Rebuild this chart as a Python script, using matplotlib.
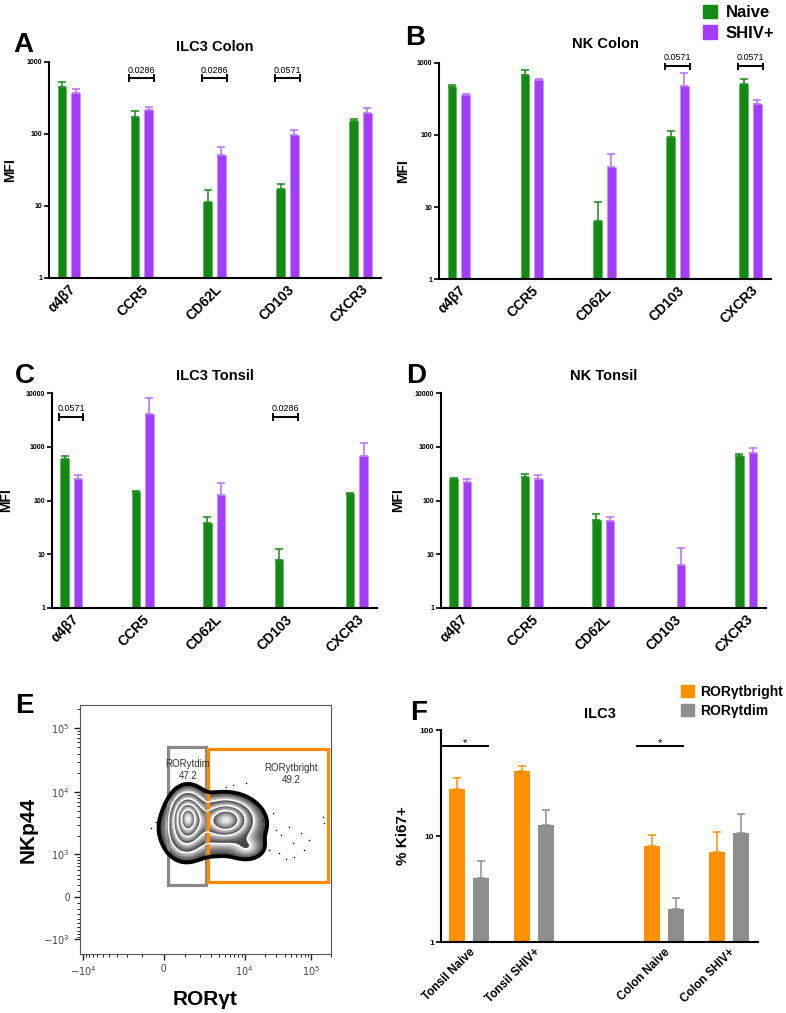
import numpy as np
import matplotlib
matplotlib.use('Agg')
import matplotlib.pyplot as plt
from matplotlib.patches import Rectangle, Patch
from matplotlib.ticker import NullLocator

plt.rcParams['font.family'] = ['Liberation Sans', 'DejaVu Sans']

# ---------------- data ----------------
markers = ['α4β7', 'CCR5', 'CD62L', 'CD103', 'CXCR3']
nan = np.nan

ilc3_colon_naive = [454, 174, 11.2, 17.2, 152]
ilc3_colon_naive_err = [68, 35, 5.3, 3.2, 11]
ilc3_colon_shiv = [371, 218, 51, 97, 198]
ilc3_colon_shiv_err = [51, 19, 16, 18, 29]
ilc3_colon_sig_idx = [1, 2, 3]
ilc3_colon_sig_p = ['0.0286', '0.0286', '0.0571']
ilc3_colon_sig_y = 600

nk_colon_naive = [465, 690, 6.4, 93, 512]
nk_colon_naive_err = [35, 119, 5.5, 22, 95]
nk_colon_shiv = [356, 575, 36, 485, 267]
nk_colon_shiv_err = [20, 32, 18, 250, 43]
nk_colon_sig_idx = [3, 4]
nk_colon_sig_p = ['0.0571', '0.0571']
nk_colon_sig_y = 910

ilc3_tonsil_naive = [580, 144, 37.7, 7.9, 134]
ilc3_tonsil_naive_err = [89, 8, 11, 4.5, 6]
ilc3_tonsil_shiv = [247, 4140, 126, nan, 679]
ilc3_tonsil_shiv_err = [46, 4050, 82, nan, 503]
ilc3_tonsil_sig_idx = [0, 3]
ilc3_tonsil_sig_p = ['0.0571', '0.0286']
ilc3_tonsil_sig_y = 3590

nk_tonsil_naive = [254, 277, 43.5, nan, 679]
nk_tonsil_naive_err = [11, 38, 11.5, nan, 60]
nk_tonsil_shiv = [217, 254, 42, 6.4, 771]
nk_tonsil_shiv_err = [37, 47, 7, 6.4, 197]

ki67_groups = ['Tonsil Naive', 'Tonsil SHIV+', 'Colon Naive', 'Colon SHIV+']
ki67_bright = [27.9, 41, 8.1, 7.1]
ki67_bright_err = [7.5, 5, 2.2, 3.8]
ki67_dim = [4.0, 12.6, 2.07, 10.6]
ki67_dim_err = [1.8, 5.1, 0.55, 5.4]
ki67_sig_groups = [0, 2]
ki67_sig_y = 70

# flow cytometry (panel E): populations described in RORgt / NKp44 units
pop_rorgt_center = [1135, 5340, 3300, 11000, 1000]
pop_nkp44_center = [4040, 3690, 2900, 1300, 1900]
pop_rorgt_spread = [0.30, 0.45, 0.90, 0.32, 0.35]
pop_nkp44_spread = [0.45, 0.36, 0.55, 0.24, 0.42]
pop_weight = [1.0, 0.75, 0.24, 0.12, 0.25]
contour_levels = [0.028, 0.13, 0.32, 0.55, 0.8]
outlier_rorgt = [26700, 30000, 35700, 47500, 53300, 71000, 79600, 94700, 150000,
                 159000, 18800, 23700, 33600, 42300, 56300, -535, -311, 10600, 6640, 5260]
outlier_nkp44 = [4600, 2500, 2080, 2820, 1520, 2210, 1180, 1720, 4070,
                 3190, 3600, 1180, 1030, 840, 895, 2660, 3380, 13700, 12800, 12100]
gate_dim_x = [169, 2465]
gate_dim_y = [197, 50850]
gate_bright_x = [2652, 182500]
gate_bright_y = [251, 47400]
gate_dim_label = 'RORytdim\n47.2'
gate_bright_label = 'RORytbright\n49.2'

# ---------------- style ----------------
GREEN = '#138a13'
GREEN_EDGE = '#5bb85b'
PURPLE = '#a43cfb'
PURPLE_EDGE = '#c995ff'
PURPLE_ERR = '#b86cff'
ORANGE = '#ff9100'
GRAY = '#8e8e8e'

W, H = 786, 1013
fig = plt.figure(figsize=(W / 100, H / 100), dpi=100)


def rect(l, t, r, b):
    return [l / W, 1 - b / H, (r - l) / W, (b - t) / H]


def style_axes(ax):
    for s in ['top', 'right']:
        ax.spines[s].set_visible(False)
    for s in ['left', 'bottom']:
        ax.spines[s].set_linewidth(1.5)
    ax.tick_params(axis='x', length=0, pad=3)
    ax.tick_params(axis='y', length=3.5, width=1.2, pad=1.5)
    ax.yaxis.set_minor_locator(NullLocator())


def bar_panel(box, naive, naive_err, shiv, shiv_err, ymax, title, title_pad,
              ylab_x, sig_idx=None, sig_p=None, sig_y=None):
    ax = fig.add_axes(rect(*box))
    x = np.arange(len(markers))
    off, w = 0.094, 0.118
    n = len(markers)
    ax.bar(x - off, naive, width=w, color=GREEN, edgecolor=GREEN_EDGE, linewidth=0.6)
    ax.bar(x + off, shiv, width=w, color=PURPLE, edgecolor=PURPLE_EDGE, linewidth=0.6)
    ax.errorbar(x - off, naive, yerr=[np.zeros(n), naive_err], fmt='none',
                ecolor=GREEN, elinewidth=1.1, capsize=3, capthick=1.1)
    ax.errorbar(x + off, shiv, yerr=[np.zeros(n), shiv_err], fmt='none',
                ecolor=PURPLE_ERR, elinewidth=1.1, capsize=3, capthick=1.1)
    ax.set_yscale('log')
    ax.set_ylim(1, ymax)
    ax.set_xlim(-0.27, 4.28)
    ticks = [10 ** k for k in range(int(np.log10(ymax)) + 1)]
    ax.set_yticks(ticks, labels=[str(t) for t in ticks])
    ax.set_xticks(x, labels=markers)
    for lab in ax.get_xticklabels():
        lab.set_rotation(45)
        lab.set_ha('right')
        lab.set_rotation_mode('anchor')
        lab.set_fontsize(10)
        lab.set_fontweight('bold')
    for lab in ax.get_yticklabels():
        lab.set_fontsize(5)
        lab.set_fontweight('bold')
    style_axes(ax)
    ax.set_title(title, fontsize=10.5, fontweight='bold', pad=title_pad)
    ax.set_ylabel('MFI', fontsize=10, fontweight='bold')
    ax.yaxis.set_label_coords(ylab_x, 0.5)
    if sig_idx is not None:
        for i, p in zip(sig_idx, sig_p):
            ax.plot([i - 0.17, i + 0.17], [sig_y, sig_y], color='k', lw=1.4,
                    marker='|', ms=6, mew=1.4, solid_capstyle='butt')
            ax.annotate(p, xy=(i, sig_y), xytext=(0, 2.5), textcoords='offset points',
                        ha='center', va='bottom', fontsize=6.5)
    return ax


bar_panel((49, 62, 381, 278), ilc3_colon_naive, ilc3_colon_naive_err,
          ilc3_colon_shiv, ilc3_colon_shiv_err, 1000, 'ILC3 Colon', 8, -0.096,
          ilc3_colon_sig_idx, ilc3_colon_sig_p, ilc3_colon_sig_y)
bar_panel((439, 63, 771, 279), nk_colon_naive, nk_colon_naive_err,
          nk_colon_shiv, nk_colon_shiv_err, 1000, 'NK Colon', 11, -0.087,
          nk_colon_sig_idx, nk_colon_sig_p, nk_colon_sig_y)
bar_panel((52, 393, 377, 608), ilc3_tonsil_naive, ilc3_tonsil_naive_err,
          ilc3_tonsil_shiv, ilc3_tonsil_shiv_err, 10000, 'ILC3 Tonsil', 9, -0.12,
          ilc3_tonsil_sig_idx, ilc3_tonsil_sig_p, ilc3_tonsil_sig_y)
bar_panel((441, 393, 766, 608), nk_tonsil_naive, nk_tonsil_naive_err,
          nk_tonsil_shiv, nk_tonsil_shiv_err, 10000, 'NK Tonsil', 9, -0.111)

# ---------------- panel F ----------------
axf = fig.add_axes(rect(441, 730, 758, 942))
pos = np.array([0, 1, 3, 4])
off, w = 0.187, 0.246
axf.bar(pos - off, ki67_bright, width=w, color=ORANGE)
axf.bar(pos + off, ki67_dim, width=w, color=GRAY)
axf.errorbar(pos - off, ki67_bright, yerr=[np.zeros(4), ki67_bright_err], fmt='none',
             ecolor=ORANGE, elinewidth=1.1, capsize=3, capthick=1.1)
axf.errorbar(pos + off, ki67_dim, yerr=[np.zeros(4), ki67_dim_err], fmt='none',
             ecolor=GRAY, elinewidth=1.1, capsize=3, capthick=1.1)
axf.set_yscale('log')
axf.set_ylim(1, 100)
axf.set_xlim(-0.433, 4.449)
axf.set_yticks([1, 10, 100], labels=['1', '10', '100'])
axf.set_xticks(pos, labels=ki67_groups)
for lab in axf.get_xticklabels():
    lab.set_rotation(45)
    lab.set_ha('right')
    lab.set_rotation_mode('anchor')
    lab.set_fontsize(8.5)
    lab.set_fontweight('bold')
for lab in axf.get_yticklabels():
    lab.set_fontsize(6)
    lab.set_fontweight('bold')
style_axes(axf)
axf.set_title('ILC3', fontsize=10.5, fontweight='bold', pad=9)
axf.set_ylabel('% Ki67+', fontsize=11, fontweight='bold')
axf.yaxis.set_label_coords(-0.098, 0.5)
for gi in ki67_sig_groups:
    p = pos[gi]
    axf.plot([p - 0.41, p + 0.295], [ki67_sig_y, ki67_sig_y], color='k', lw=1.4)
    axf.annotate('*', xy=(p - 0.06, ki67_sig_y), xytext=(0, -1), textcoords='offset points',
                 ha='center', va='bottom', fontsize=8)

# ---------------- panel E ----------------
axe = fig.add_axes(rect(80, 705, 331, 954))
a0x, a0y = 1222, 450
axe.set_xscale('asinh', linear_width=a0x)
axe.set_yscale('asinh', linear_width=a0y)

ux = np.linspace(-1.2, 6.2, 600)
uy = np.linspace(-2.3, 7.1, 600)
UX, UY = np.meshgrid(ux, uy)
dens = np.zeros_like(UX)
for cx, cy, sx, sy, wt in zip(pop_rorgt_center, pop_nkp44_center, pop_rorgt_spread,
                              pop_nkp44_spread, pop_weight):
    mx = np.arcsinh(cx / a0x)
    my = np.arcsinh(cy / a0y)
    dens += wt * np.exp(-0.5 * (((UX - mx) / sx) ** 2 + ((UY - my) / sy) ** 2))
dens = dens / dens.max()
X = a0x * np.sinh(UX)
Y = a0y * np.sinh(UY)
lv = list(contour_levels) + [1.0]
lc = np.interp(dens, lv, np.arange(len(lv)))
z = np.ma.masked_where(dens < contour_levels[0], np.minimum(lc % 1.0, 0.999))
axe.pcolormesh(X, Y, z, cmap='gray', vmin=-0.3, vmax=1.05, shading='auto', rasterized=True)
axe.contour(X, Y, dens, levels=contour_levels[1:], colors='white', linewidths=1.0)
axe.contour(X, Y, dens, levels=contour_levels[:1], colors='black', linewidths=2.8)
axe.scatter(outlier_rorgt, outlier_nkp44, s=1.2, c='k', linewidths=0)

axe.add_patch(Rectangle((gate_dim_x[0], gate_dim_y[0]), gate_dim_x[1] - gate_dim_x[0],
                        gate_dim_y[1] - gate_dim_y[0], fill=False, ec='#8a8a8a', lw=2.3))
axe.add_patch(Rectangle((gate_bright_x[0], gate_bright_y[0]),
                        gate_bright_x[1] - gate_bright_x[0],
                        gate_bright_y[1] - gate_bright_y[0], fill=False, ec='#ff8a00', lw=2.3))
axe.text(1135, 22100, gate_dim_label, ha='center', va='center', fontsize=7,
         color='#333333', linespacing=1.15)
axe.text(50700, 19100, gate_bright_label, ha='center', va='center', fontsize=7,
         color='#333333', linespacing=1.15)

axe.set_xlim(-11075, 195400)
axe.set_ylim(-1764, 232600)
axe.set_xticks([-1e4, 0, 1e4, 1e5], labels=[r'$-10^4$', '0', r'$10^4$', r'$10^5$'])
axe.set_yticks([-1e3, 0, 1e3, 1e4, 1e5], labels=[r'$-10^3$', '0', r'$10^3$', r'$10^4$', r'$10^5$'])
xminor = ([-k * 1e3 for k in range(1, 10)] + [k * 1e3 for k in range(1, 10)] +
          [k * 1e4 for k in range(2, 10)] + [2e5])
yminor = ([-k * 1e2 for k in range(1, 10)] + [k * 1e2 for k in range(1, 10)] +
          [k * 1e3 for k in range(2, 10)] + [k * 1e4 for k in range(2, 10)] + [2e5])
axe.set_xticks(xminor, minor=True)
axe.set_yticks(yminor, minor=True)
axe.tick_params(which='major', direction='out', length=4, width=1, color='#222',
                labelsize=7, labelcolor='#444444')
axe.tick_params(which='minor', direction='out', length=2, width=0.7, color='#222')
for s in axe.spines.values():
    s.set_linewidth(0.8)
    s.set_color('#555555')
axe.set_xlabel('RORγt', fontsize=15, fontweight='bold')
axe.xaxis.set_label_coords(0.5, -0.145)
axe.set_ylabel('NKp44', fontsize=15, fontweight='bold')
axe.yaxis.set_label_coords(-0.167, 0.5)

# ---------------- legends ----------------
fig.legend(handles=[Patch(color=GREEN), Patch(color=PURPLE)], labels=['Naive', 'SHIV+'],
           loc='upper left', bbox_to_anchor=(703 / W, 1 - 5 / H), frameon=False,
           handlelength=0.85, handleheight=0.85, handletextpad=0.5, labelspacing=0.3,
           borderpad=0, borderaxespad=0, prop={'weight': 'bold', 'size': 12})
fig.legend(handles=[Patch(color=ORANGE), Patch(color=GRAY)],
           labels=['RORγtbright', 'RORγtdim'],
           loc='upper left', bbox_to_anchor=(681 / W, 1 - 685 / H), frameon=False,
           handlelength=0.9, handleheight=0.9, handletextpad=0.45, labelspacing=0.35,
           borderpad=0, borderaxespad=0, prop={'weight': 'bold', 'size': 10})

# ---------------- panel letters ----------------
for letter, px, py in [('A', 13, 52), ('B', 405, 45), ('C', 15, 383), ('D', 406, 383),
                       ('E', 15, 713), ('F', 410, 720)]:
    fig.text(px / W, 1 - py / H, letter, fontsize=20, fontweight='bold', va='baseline',
             ha='left')

fig.savefig('out.png', dpi=100)
